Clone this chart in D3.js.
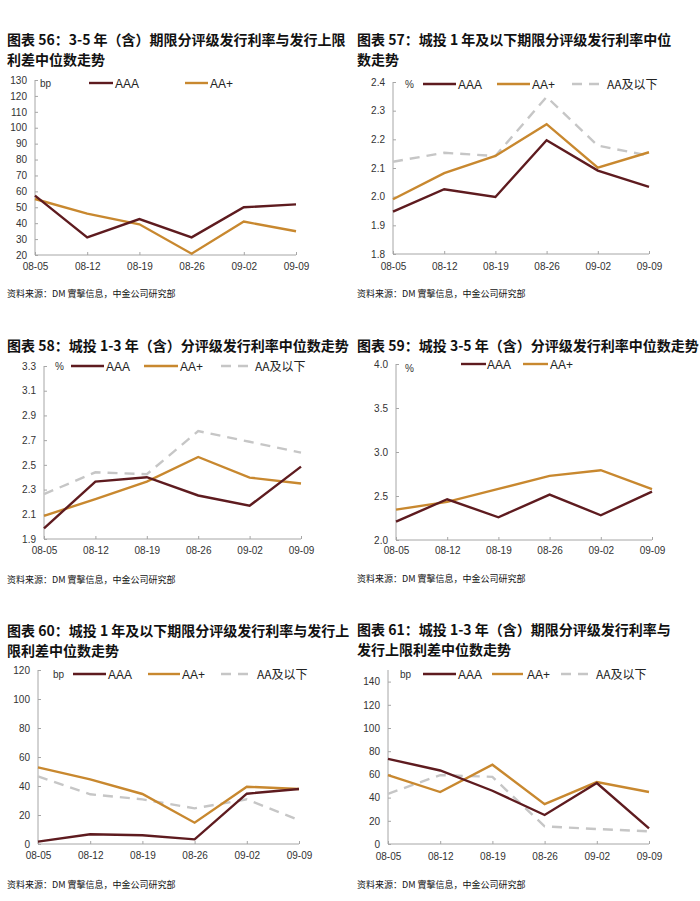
<!DOCTYPE html>
<html>
<head>
<meta charset="utf-8">
<script src="https://cdn.jsdelivr.net/npm/d3@7/dist/d3.min.js"></script>
<style>
  html, body { margin: 0; padding: 0; background: #fff; }
  svg { display: block; }
</style>
</head>
<body>
<svg id="chart" width="700" height="901"></svg>
<script>
// ---------- DATA ----------
const dates = ["08-05", "08-12", "08-19", "08-26", "09-02", "09-09"];

const p56_AAA    = [57.3, 31.1, 42.6, 31.1, 50.0, 51.8];
const p56_AAplus = [55.2, 46.0, 39.3, 20.8, 41.0, 34.9];
const p56_ticks  = [20, 30, 40, 50, 60, 70, 80, 90, 100, 110, 120, 130];

const p57_AAA    = [1.948, 2.026, 1.999, 2.197, 2.091, 2.034];
const p57_AAplus = [1.991, 2.082, 2.142, 2.253, 2.101, 2.155];
const p57_AAlow  = [2.122, 2.153, 2.142, 2.348, 2.178, 2.143];
const p57_ticks  = [1.8, 1.9, 2.0, 2.1, 2.2, 2.3, 2.4];

const p58_AAA    = [1.986, 2.365, 2.400, 2.252, 2.169, 2.486];
const p58_AAplus = [2.088, 2.222, 2.365, 2.564, 2.397, 2.349];
const p58_AAlow  = [2.263, 2.440, 2.424, 2.773, 2.687, 2.599];
const p58_ticks  = [1.9, 2.1, 2.3, 2.5, 2.7, 2.9, 3.1, 3.3];

const p59_AAA    = [2.209, 2.463, 2.258, 2.516, 2.281, 2.550];
const p59_AAplus = [2.345, 2.433, 2.581, 2.729, 2.793, 2.577];
const p59_ticks  = [2.0, 2.5, 3.0, 3.5, 4.0];

const p60_AAA    = [1.6, 6.7, 6.0, 3.2, 34.7, 37.9];
const p60_AAplus = [52.9, 44.6, 34.5, 14.7, 39.5, 37.9];
const p60_AAlow  = [46.7, 34.3, 30.8, 24.6, 30.8, 16.5];
const p60_ticks  = [0, 20, 40, 60, 80, 100, 120];

const p61_AAA    = [73.4, 63.4, 45.9, 25.0, 52.5, 13.5];
const p61_AAplus = [59.4, 44.8, 68.3, 34.4, 53.4, 44.8];
const p61_AAlow  = [43.3, 59.4, 57.9, 15.2, 12.9, 10.9];
const p61_ticks  = [0, 20, 40, 60, 80, 100, 120, 140];

const seriesNames = ["AAA", "AA+", "AA及以下"];
const sourceText = "资料来源：DM 實擊信息，中金公司研究部";

// ---------- STYLE ----------
const styles = {
  "AAA":     { color: "#5e1b1f", dash: null },
  "AA+":     { color: "#c8882f", dash: null },
  "AA及以下": { color: "#c6c6c6", dash: "10,7" }
};

// ---------- LAYOUT ----------
const panels = [
  { title: ["图表 56：3-5 年（含）期限分评级发行利率与发行上限", "利差中位数走势"], titleY: [45, 65],
    series: [["AAA", p56_AAA], ["AA+", p56_AAplus]], ticks: p56_ticks, fmt: d3.format("d"),
    domain: [20, 130], x0: 35, x1: 296, yTop: 80, yBot: 255, unit: "bp", unitX: 40,
    legY: 83, leg: [[89, 113, 115], [185, 208, 210]], xlabY: 270, srcY: 297 },
  { title: ["图表 57：城投 1 年及以下期限分评级发行利率中位", "数走势"], titleY: [45, 65],
    series: [["AAA", p57_AAA], ["AA+", p57_AAplus], ["AA及以下", p57_AAlow]], ticks: p57_ticks, fmt: d3.format(".1f"),
    domain: [1.8, 2.4], x0: 393, x1: 649, yTop: 82, yBot: 254, unit: "%", unitX: 405,
    legY: 84, leg: [[423, 456, 458], [497, 530, 532], [572, 605, 607]], xlabY: 270, srcY: 297 },
  { title: ["图表 58：城投 1-3 年（含）分评级发行利率中位数走势"], titleY: [351],
    series: [["AAA", p58_AAA], ["AA+", p58_AAplus], ["AA及以下", p58_AAlow]], ticks: p58_ticks, fmt: d3.format(".1f"),
    domain: [1.9, 3.3], x0: 44, x1: 301, yTop: 366, yBot: 539, unit: "%", unitX: 55,
    legY: 366, leg: [[71, 104, 106], [144, 178, 180], [221, 252, 255]], xlabY: 554, srcY: 583 },
  { title: ["图表 59：城投 3-5 年（含）分评级发行利率中位数走势"], titleY: [351],
    series: [["AAA", p59_AAA], ["AA+", p59_AAplus]], ticks: p59_ticks, fmt: d3.format(".1f"),
    domain: [2.0, 4.0], x0: 396, x1: 652, yTop: 364, yBot: 540, unit: "%", unitX: 405, unitDy: 4,
    legY: 364, leg: [[461, 486, 487], [523, 548, 550]], xlabY: 554, srcY: 582 },
  { title: ["图表 60：城投 1 年及以下期限分评级发行利率与发行上", "限利差中位数走势"], titleY: [636, 656],
    series: [["AAA", p60_AAA], ["AA+", p60_AAplus], ["AA及以下", p60_AAlow]], ticks: p60_ticks, fmt: d3.format("d"),
    domain: [0, 120], x0: 38, x1: 299, yTop: 670, yBot: 844, unit: "bp", unitX: 53,
    legY: 674, leg: [[73, 106, 108], [148, 180, 182], [221, 253, 257]], xlabY: 859, srcY: 888 },
  { title: ["图表 61：城投 1-3 年（含）期限分评级发行利率与", "发行上限利差中位数走势"], titleY: [635, 655],
    series: [["AAA", p61_AAA], ["AA+", p61_AAplus], ["AA及以下", p61_AAlow]], ticks: p61_ticks, fmt: d3.format("d"),
    domain: [0, 150], x0: 388, x1: 649, yTop: 670, yBot: 844, unit: "bp", unitX: 400,
    legY: 674, leg: [[423, 456, 458], [492, 523, 527], [561, 593, 596]], xlabY: 860, srcY: 888 }
];

const svg = d3.select("#chart");
const cjk = "'Noto Sans CJK SC', 'Noto Sans', sans-serif";
const latin = "'Liberation Sans', Arial, sans-serif";
const axisColor = "#a6a6a6";

panels.forEach((p, pi) => {
  const g = svg.append("g").attr("class", "panel-" + pi);
  const textX = p.x0 < 350 ? 7 : 357;

  // title
  p.title.forEach((t, i) => {
    g.append("text").attr("x", textX).attr("y", p.titleY[i])
      .attr("font-family", cjk).attr("font-weight", "bold").attr("font-size", 14)
      .attr("fill", "#111").text(t);
  });

  const x = d3.scalePoint().domain(dates).range([p.x0, p.x1]);
  const y = d3.scaleLinear().domain(p.domain).range([p.yBot, p.yTop]);

  // y axis
  const yAxis = d3.axisLeft(y).tickValues(p.ticks).tickFormat(p.fmt).tickSize(-3).tickPadding(8);
  const ya = g.append("g").attr("transform", `translate(${p.x0},0)`).call(yAxis);
  ya.select(".domain").attr("stroke", axisColor).attr("d", `M0,${y(p.domain[1])}V${y(p.domain[0])}`);
  ya.selectAll(".tick line").attr("stroke", axisColor);
  ya.selectAll(".tick text").attr("font-family", latin).attr("font-size", 10).attr("fill", "#333");

  // x axis
  const xAxis = d3.axisBottom(x).tickSize(-3).tickPadding(0);
  const xa = g.append("g").attr("transform", `translate(0,${p.yBot})`).call(xAxis);
  xa.select(".domain").attr("stroke", axisColor).attr("d", `M${p.x0},0H${p.x1}`);
  xa.selectAll(".tick line").attr("stroke", axisColor);
  xa.selectAll(".tick text").attr("font-family", latin).attr("font-size", 10).attr("fill", "#333")
    .attr("dy", null).attr("y", p.xlabY - p.yBot);

  // lines (draw dashed first, then AA+, then AAA)
  const line = d3.line().x((d, i) => x(dates[i])).y(d => y(d));
  const order = ["AA及以下", "AA+", "AAA"];
  order.forEach(name => {
    const s = p.series.find(e => e[0] === name);
    if (!s) return;
    const st = styles[name];
    g.append("path").datum(s[1]).attr("d", line)
      .attr("fill", "none").attr("stroke", st.color).attr("stroke-width", 2.4)
      .attr("stroke-linejoin", "miter").attr("stroke-dasharray", st.dash);
  });

  // unit label
  g.append("text").attr("x", p.unitX).attr("y", p.legY + 4 + (p.unitDy || 0))
    .attr("font-family", latin).attr("font-size", 10).attr("fill", "#333").text(p.unit);

  // legend
  p.series.forEach((s, i) => {
    const st = styles[s[0]];
    const L = p.leg[i];
    g.append("line").attr("x1", L[0]).attr("x2", L[1]).attr("y1", p.legY).attr("y2", p.legY)
      .attr("stroke", st.color).attr("stroke-width", 2.4).attr("stroke-dasharray", st.dash);
    g.append("text").attr("x", L[2]).attr("y", p.legY + 4.5)
      .attr("font-family", s[0] === "AA及以下" ? cjk : latin).attr("font-size", 12).attr("fill", "#222")
      .text(s[0]);
  });

  // source
  g.append("text").attr("x", textX).attr("y", p.srcY)
    .attr("font-family", cjk).attr("font-size", 9).attr("fill", "#111").text(sourceText);
});
</script>
</body>
</html>
